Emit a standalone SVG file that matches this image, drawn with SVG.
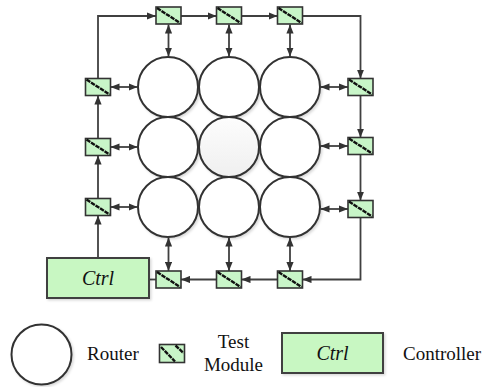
<svg xmlns="http://www.w3.org/2000/svg" width="485" height="387" viewBox="0 0 485 387">
  <defs>
    <style>
      .router { fill: #ffffff; stroke: #333333; stroke-width: 2; }
      .router.hub { fill: url(#hubFill); }
      .tm { fill: #c8f5c8; stroke: #333333; stroke-width: 1.6; }
      .tm-diag { stroke: #111111; stroke-width: 2.4; stroke-dasharray: 4.5 0.9; fill: none; }
      .ctrl { fill: #c8f7c2; stroke: #404040; stroke-width: 2; }
      .wire { fill: none; stroke: #404040; stroke-width: 1.8; }
      .label { font-family: 'Liberation Serif', 'DejaVu Serif', 'Times New Roman', Times, serif; font-size: 19px; fill: #111111; }
      .ctrl-text { font-family: 'Liberation Serif', 'DejaVu Serif', 'Times New Roman', Times, serif; font-size: 20px; font-style: italic; text-anchor: middle; fill: #111111; }
    </style>
    <linearGradient id="hubFill" x1="0" y1="0" x2="0" y2="1">
      <stop offset="0" stop-color="#fdfdfd"/>
      <stop offset="1" stop-color="#efefef"/>
    </linearGradient>
    <filter id="shadow" x="-20%" y="-20%" width="150%" height="150%">
      <feDropShadow dx="1.5" dy="1.5" stdDeviation="0.8" flood-color="#000000" flood-opacity="0.15"/>
    </filter>
    <marker id="arrow" viewBox="0 0 10 8" refX="10" refY="4" markerWidth="9" markerHeight="7.5" markerUnits="userSpaceOnUse" orient="auto-start-reverse">
      <path d="M0,0 L10,4 L0,8 z" fill="#333333"/>
    </marker>
    <!-- test module symbol: green box with a dashed diagonal -->
    <symbol id="tmSym" viewBox="0 0 25 17" overflow="visible">
      <rect class="tm" x="0" y="0" width="25" height="17"/>
      <line class="tm-diag" x1="1" y1="1" x2="24" y2="16"/>
    </symbol>
  </defs>

  <rect x="0" y="0" width="485" height="387" fill="#ffffff"/>

  <!-- connectors -->
  <g id="connectors">
    <!-- ring: controller -> left column -> top row -> right column -> bottom row -> controller -->
    <line class="wire" x1="98" y1="258" x2="98" y2="215.5" marker-end="url(#arrow)"/>
    <line class="wire" x1="98" y1="198.5" x2="98" y2="155.5" marker-end="url(#arrow)"/>
    <line class="wire" x1="98" y1="138.5" x2="98" y2="95.5" marker-end="url(#arrow)"/>
    <polyline class="wire" points="98,78.5 98,16 156,16" marker-end="url(#arrow)"/>
    <line class="wire" x1="181" y1="16" x2="216.5" y2="16" marker-end="url(#arrow)"/>
    <line class="wire" x1="241.5" y1="16" x2="277.5" y2="16" marker-end="url(#arrow)"/>
    <polyline class="wire" points="302.5,16 360.5,16 360.5,78.5" marker-end="url(#arrow)"/>
    <line class="wire" x1="360.5" y1="95.5" x2="360.5" y2="137.5" marker-end="url(#arrow)"/>
    <line class="wire" x1="360.5" y1="154.5" x2="360.5" y2="200.5" marker-end="url(#arrow)"/>
    <polyline class="wire" points="360.5,217.5 360.5,279.5 302.5,279.5" marker-end="url(#arrow)"/>
    <line class="wire" x1="277.5" y1="279.5" x2="241.5" y2="279.5" marker-end="url(#arrow)"/>
    <line class="wire" x1="216.5" y1="279.5" x2="181" y2="279.5" marker-end="url(#arrow)"/>
    <line class="wire" x1="156" y1="279.5" x2="149" y2="279.5"/>

    <!-- module <-> router links -->
    <line class="wire" x1="168.5" y1="24.5" x2="168.5" y2="56.5" marker-start="url(#arrow)" marker-end="url(#arrow)"/>
    <line class="wire" x1="229" y1="24.5" x2="229" y2="56.5" marker-start="url(#arrow)" marker-end="url(#arrow)"/>
    <line class="wire" x1="290" y1="24.5" x2="290" y2="56.5" marker-start="url(#arrow)" marker-end="url(#arrow)"/>

    <line class="wire" x1="110.5" y1="87" x2="137.5" y2="87" marker-start="url(#arrow)" marker-end="url(#arrow)"/>
    <line class="wire" x1="110.5" y1="147" x2="137.5" y2="147" marker-start="url(#arrow)" marker-end="url(#arrow)"/>
    <line class="wire" x1="110.5" y1="207" x2="137.5" y2="207" marker-start="url(#arrow)" marker-end="url(#arrow)"/>

    <line class="wire" x1="348" y1="87" x2="320.5" y2="87" marker-start="url(#arrow)" marker-end="url(#arrow)"/>
    <line class="wire" x1="348" y1="146" x2="320.5" y2="146" marker-start="url(#arrow)" marker-end="url(#arrow)"/>
    <line class="wire" x1="348" y1="209" x2="320.5" y2="209" marker-start="url(#arrow)" marker-end="url(#arrow)"/>

    <line class="wire" x1="168.5" y1="271" x2="168.5" y2="237.5" marker-start="url(#arrow)" marker-end="url(#arrow)"/>
    <line class="wire" x1="229" y1="271" x2="229" y2="237.5" marker-start="url(#arrow)" marker-end="url(#arrow)"/>
    <line class="wire" x1="290" y1="271" x2="290" y2="237.5" marker-start="url(#arrow)" marker-end="url(#arrow)"/>
  </g>

  <!-- routers (3x3 mesh) -->
  <g id="routers" filter="url(#shadow)">
    <g id="r00"><circle class="router" cx="168" cy="87" r="30"/></g>
    <g id="r01"><circle class="router" cx="229" cy="87" r="30"/></g>
    <g id="r02"><circle class="router" cx="290" cy="87" r="30"/></g>
    <g id="r10"><circle class="router" cx="168" cy="147" r="30"/></g>
    <g id="r11"><circle class="router hub" cx="229" cy="147" r="30"/></g>
    <g id="r12"><circle class="router" cx="290" cy="147" r="30"/></g>
    <g id="r20"><circle class="router" cx="168" cy="207" r="30"/></g>
    <g id="r21"><circle class="router" cx="229" cy="207" r="30"/></g>
    <g id="r22"><circle class="router" cx="290" cy="207" r="30"/></g>
  </g>

  <!-- test modules -->
  <g id="test-modules">
    <g id="tm-top-1"><use href="#tmSym" x="156" y="7" width="25" height="17"/></g>
    <g id="tm-top-2"><use href="#tmSym" x="216.5" y="7" width="25" height="17"/></g>
    <g id="tm-top-3"><use href="#tmSym" x="277.5" y="7" width="25" height="17"/></g>
    <g id="tm-left-1"><use href="#tmSym" x="85.5" y="78.5" width="25" height="17"/></g>
    <g id="tm-left-2"><use href="#tmSym" x="85.5" y="138.5" width="25" height="17"/></g>
    <g id="tm-left-3"><use href="#tmSym" x="85.5" y="198.5" width="25" height="17"/></g>
    <g id="tm-right-1"><use href="#tmSym" x="348" y="78.5" width="25" height="17"/></g>
    <g id="tm-right-2"><use href="#tmSym" x="348" y="137.5" width="25" height="17"/></g>
    <g id="tm-right-3"><use href="#tmSym" x="348" y="200.5" width="25" height="17"/></g>
    <g id="tm-bottom-1"><use href="#tmSym" x="156" y="271" width="25" height="17"/></g>
    <g id="tm-bottom-2"><use href="#tmSym" x="216.5" y="271" width="25" height="17"/></g>
    <g id="tm-bottom-3"><use href="#tmSym" x="277.5" y="271" width="25" height="17"/></g>
  </g>

  <!-- controller -->
  <g id="controller">
    <rect class="ctrl" x="47" y="258" width="102" height="40" filter="url(#shadow)"/>
    <text class="ctrl-text" x="98" y="285">Ctrl</text>
  </g>

  <!-- legend -->
  <g id="legend">
    <g id="legend-router">
      <circle class="router" cx="41.5" cy="354.5" r="30" filter="url(#shadow)"/>
      <text class="label" x="87" y="360">Router</text>
    </g>
    <g id="legend-test-module">
      <rect class="tm" x="159.5" y="344.5" width="25" height="18"/>
      <line class="tm-diag" x1="161" y1="347" x2="175" y2="361.5"/>
      <line class="tm-diag" x1="175.5" y1="345.5" x2="183.5" y2="353"/>
      <text class="label" x="233.5" y="348" text-anchor="middle">Test</text>
      <text class="label" x="233.5" y="371" text-anchor="middle">Module</text>
    </g>
    <g id="legend-controller">
      <rect class="ctrl" x="282" y="333" width="101" height="40" filter="url(#shadow)"/>
      <text class="ctrl-text" x="332.5" y="360">Ctrl</text>
      <text class="label" x="403" y="360">Controller</text>
    </g>
  </g>
</svg>
